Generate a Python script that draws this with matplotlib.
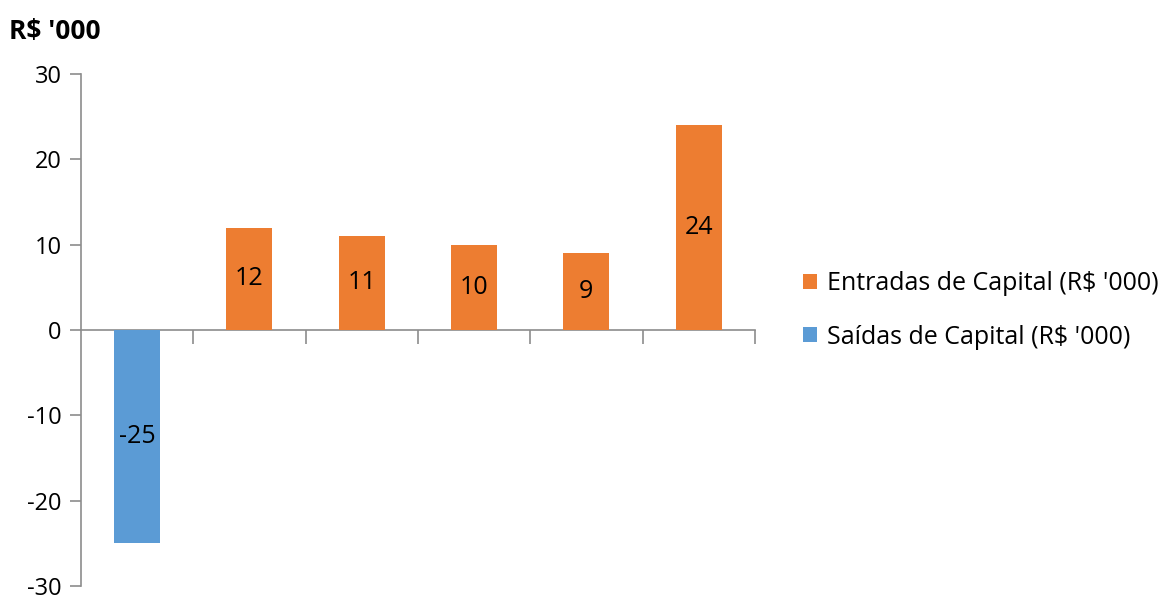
import numpy as np
import matplotlib.pyplot as plt

# data
categories = ['1', '2', '3', '4', '5', '6']
entradas = [np.nan, 12, 11, 10, 9, 24]
saidas = [-25, np.nan, np.nan, np.nan, np.nan, np.nan]
y_ticks = [-30, -20, -10, 0, 10, 20, 30]

orange = '#ED7D31'
blue = '#5B9BD5'
gray = '#8C8C8C'

plt.rcParams['font.family'] = ['Open Sans', 'DejaVu Sans']

fig = plt.figure(figsize=(11.72, 5.99), dpi=100)
ax = fig.add_axes([0.0691, 0.022, 0.575, 0.8545])

x = np.arange(len(categories))
w = 0.41
b1 = ax.bar(x, entradas, width=w, color=orange, label="Entradas de Capital (R$ '000)", zorder=3)
b2 = ax.bar(x, saidas, width=w, color=blue, label="Saídas de Capital (R$ '000)", zorder=3)

# data labels in the middle of each bar
for vals in (entradas, saidas):
    for xi, v in zip(x, vals):
        if not np.isnan(v):
            ax.text(xi, v / 2, f'{v:g}', ha='center', va='center', fontsize=18, color='black', zorder=4)

ax.set_xlim(-0.5, len(categories) - 0.5)
ax.set_ylim(-30, 30)
ax.set_yticks(y_ticks)
ax.set_yticklabels([str(t) for t in y_ticks], fontsize=17)

# category ticks at boundaries, no labels
ax.set_xticks(np.arange(len(categories)) + 0.5)
ax.set_xticklabels([])
ax.tick_params(axis='x', direction='out', length=10, width=1.2, color=gray)
ax.tick_params(axis='y', direction='out', length=8, width=1.2, color=gray, pad=6)

for s in ['top', 'right']:
    ax.spines[s].set_visible(False)
ax.spines['bottom'].set_position(('data', 0))
ax.spines['bottom'].set_color(gray)
ax.spines['left'].set_color(gray)
ax.spines['bottom'].set_linewidth(1.2)
ax.spines['left'].set_linewidth(1.2)

fig.text(0.008, 0.948, "R$ '000", fontsize=19, fontweight='bold', ha='left', va='center')

leg = fig.legend(handles=[b1, b2], loc='center left', bbox_to_anchor=(0.685, 0.482),
                 frameon=False, fontsize=18, handlelength=0.55, handleheight=0.55,
                 handletextpad=0.4, labelspacing=1.15, borderaxespad=0, borderpad=0)

fig.savefig('out.png', dpi=100)
